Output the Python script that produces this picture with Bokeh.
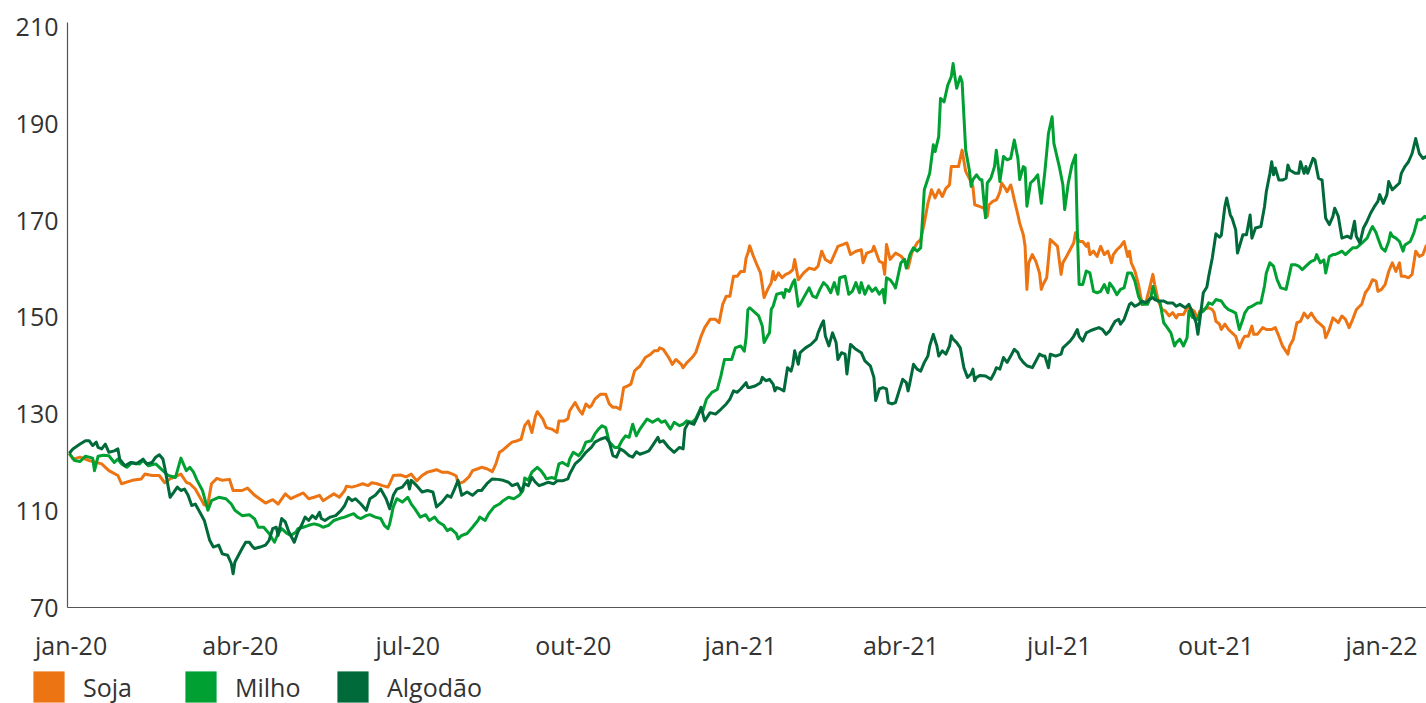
import pandas as pd
from bokeh.plotting import figure
from bokeh.layouts import column
from bokeh.models import Range1d, FixedTicker, Legend, LegendItem
from bokeh.embed import file_html
from bokeh.resources import INLINE

# ---------------- data (index values, days counted from 2020-01-02) ----------------
START = "2020-01-02"
END_DAY = 755

soja_days = [1, 3, 7, 12, 19, 23, 28, 30, 36, 41, 43, 47, 51, 54, 57, 63, 66, 68, 71, 76, 78, 80, 83, 86, 90, 92, 97, 100, 104, 110, 114, 117, 121, 124, 128, 131, 134, 137, 140, 142, 145, 148, 151, 154, 155, 158, 161, 164, 167, 169, 172, 175, 178, 179, 181, 185, 188, 191, 194, 197, 200, 203, 205, 208, 211, 214, 216, 217, 220, 223, 225, 228, 230, 233, 236, 238, 240, 242, 245, 247, 250, 252, 254, 256, 258, 260, 261, 264, 266, 269, 272, 273, 276, 278, 279, 282, 284, 286, 288, 290, 291, 293, 296, 299, 301, 303, 305, 307, 309, 311, 313, 315, 316, 318, 321, 324, 326, 328, 329, 331, 334, 336, 338, 341, 342, 344, 347, 349, 352, 354, 357, 360, 362, 364, 366, 368, 370, 372, 374, 376, 377, 378, 379, 381, 383, 385, 387, 389, 391, 392, 393, 395, 397, 399, 401, 403, 404, 406, 409, 412, 415, 417, 419, 421, 424, 426, 428, 431, 433, 435, 438, 441, 442, 444, 447, 448, 451, 453, 454, 455, 457, 460, 463, 466, 467, 469, 472, 474, 476, 478, 480, 482, 484, 486, 488, 490, 491, 493, 495, 497, 499, 501, 503, 504, 507, 509, 511, 512, 514, 516, 517, 518, 519, 521, 522, 524, 525, 526, 528, 529, 531, 532, 533, 534, 536, 538, 540, 541, 542, 544, 546, 548, 550, 552, 553, 555, 557, 559, 560, 562, 564, 566, 567, 568, 570, 572, 574, 576, 578, 580, 581, 583, 585, 587, 589, 590, 591, 593, 595, 597, 599, 601, 603, 604, 606, 608, 610, 612, 614, 616, 617, 620, 622, 624, 626, 628, 629, 631, 634, 636, 637, 638, 640, 641, 643, 645, 647, 649, 651, 653, 654, 656, 658, 659, 661, 664, 666, 669, 671, 673, 675, 678, 679, 681, 683, 685, 687, 689, 691, 692, 694, 696, 698, 699, 701, 703, 704, 706, 708, 710, 712, 714, 716, 717, 719, 721, 723, 725, 727, 728, 730, 732, 734, 736, 738, 740, 741, 743, 745, 747, 749, 751, 753, 755]
soja_vals = [121.9, 120.7, 121.1, 120.4, 119.7, 118.3, 117.3, 115.6, 116.3, 116.6, 117.6, 117.3, 117.3, 115.8, 116.6, 117.6, 115.9, 115.6, 114.5, 111.2, 111.4, 115.6, 116.7, 116.3, 116.5, 114.2, 114.2, 114.7, 113.2, 111.6, 112.3, 111.4, 113.5, 112.5, 113.2, 113.7, 112.5, 112.8, 113.2, 112.1, 112.8, 113.5, 112.8, 114.2, 115.1, 114.9, 115.2, 115.6, 115.2, 115.8, 115.6, 115.2, 114.9, 115.6, 117.3, 117.4, 117.0, 117.6, 116.2, 117.3, 118.0, 118.3, 118.5, 118.0, 118.0, 117.6, 117.2, 115.6, 116.0, 117.0, 118.3, 118.7, 119.0, 118.7, 118.1, 119.7, 122.1, 122.6, 123.6, 124.2, 124.5, 124.8, 127.6, 128.6, 126.2, 129.6, 130.5, 129.0, 127.2, 126.9, 126.2, 128.6, 128.6, 129.0, 130.7, 132.4, 131.0, 130.0, 132.1, 131.4, 131.7, 133.1, 134.1, 134.1, 132.1, 131.4, 131.4, 131.0, 135.5, 135.8, 136.2, 138.9, 139.3, 139.9, 141.7, 142.4, 143.1, 143.1, 143.7, 143.4, 141.7, 140.3, 141.3, 140.3, 139.6, 140.6, 141.7, 142.7, 146.1, 147.9, 149.6, 149.6, 148.9, 152.7, 154.4, 154.4, 158.5, 158.5, 159.5, 159.5, 162.3, 163.3, 164.8, 162.7, 160.9, 159.2, 154.1, 155.8, 157.2, 159.5, 157.8, 159.2, 158.2, 158.9, 159.2, 159.9, 162.0, 157.8, 159.2, 160.2, 159.9, 160.6, 163.7, 162.0, 161.3, 163.0, 164.7, 165.1, 165.4, 163.0, 163.7, 164.0, 161.3, 163.3, 163.7, 164.7, 161.6, 161.3, 158.9, 165.1, 162.0, 163.3, 162.7, 161.3, 160.2, 163.3, 165.4, 166.1, 169.5, 173.6, 176.4, 174.7, 176.4, 175.0, 176.7, 177.4, 181.2, 181.2, 181.2, 184.6, 180.2, 178.8, 177.1, 173.3, 172.9, 172.6, 170.9, 173.3, 174.0, 174.3, 175.0, 176.0, 177.8, 176.7, 176.0, 177.4, 176.0, 174.3, 171.2, 169.5, 167.1, 164.7, 155.8, 161.3, 163.0, 161.6, 159.2, 155.8, 156.8, 158.2, 166.1, 165.4, 164.7, 158.9, 161.3, 162.6, 164.0, 165.4, 167.5, 165.7, 165.7, 164.7, 165.4, 163.0, 163.7, 162.6, 164.7, 163.0, 163.7, 161.3, 163.0, 164.0, 164.7, 165.7, 162.6, 163.7, 161.3, 159.6, 156.8, 152.7, 153.0, 155.8, 158.9, 156.8, 153.4, 151.7, 151.3, 150.3, 151.0, 149.9, 150.6, 150.6, 152.0, 151.8, 151.3, 149.6, 151.3, 151.6, 152.0, 151.6, 151.0, 149.2, 148.6, 147.5, 148.6, 147.5, 146.8, 146.1, 143.7, 145.5, 146.1, 146.1, 148.2, 146.5, 146.5, 147.9, 147.5, 147.5, 147.9, 146.1, 144.1, 142.4, 144.1, 145.5, 148.9, 149.2, 150.9, 149.9, 150.9, 150.3, 149.2, 148.6, 147.9, 145.8, 147.5, 149.9, 149.6, 148.9, 150.3, 149.6, 147.9, 149.6, 151.6, 152.0, 152.7, 155.1, 156.1, 157.8, 157.5, 155.4, 155.8, 156.8, 159.5, 161.3, 159.5, 161.3, 158.5, 158.5, 158.2, 158.9, 163.7, 162.6, 163.0, 165.0]

milho_days = [1, 4, 7, 10, 14, 15, 17, 20, 23, 26, 28, 30, 33, 36, 40, 42, 45, 49, 53, 56, 60, 63, 66, 68, 70, 72, 75, 78, 80, 84, 88, 91, 93, 97, 101, 104, 106, 109, 112, 115, 117, 119, 122, 124, 127, 128, 131, 134, 137, 140, 142, 145, 148, 151, 154, 156, 159, 161, 163, 166, 168, 171, 174, 176, 178, 179, 181, 183, 186, 189, 191, 193, 196, 199, 201, 204, 206, 209, 211, 213, 216, 217, 219, 222, 225, 228, 229, 232, 234, 237, 240, 242, 245, 248, 251, 253, 254, 256, 258, 261, 263, 265, 266, 269, 271, 273, 275, 278, 279, 281, 284, 286, 288, 291, 293, 295, 297, 299, 301, 304, 306, 308, 310, 312, 314, 316, 318, 322, 325, 328, 330, 332, 335, 337, 340, 342, 344, 347, 349, 352, 353, 355, 358, 361, 363, 365, 367, 369, 371, 374, 376, 377, 378, 379, 382, 384, 386, 387, 389, 390, 391, 392, 394, 397, 398, 399, 401, 403, 404, 406, 407, 409, 412, 414, 416, 418, 420, 422, 424, 426, 428, 429, 432, 434, 436, 438, 440, 441, 443, 445, 447, 449, 451, 453, 454, 455, 457, 459, 460, 463, 465, 466, 468, 470, 472, 474, 476, 479, 481, 482, 484, 485, 487, 489, 491, 492, 493, 494, 496, 497, 499, 501, 502, 503, 505, 507, 508, 510, 511, 513, 515, 516, 517, 518, 520, 522, 524, 526, 528, 529, 531, 532, 533, 535, 537, 539, 541, 543, 545, 547, 548, 551, 553, 554, 556, 558, 560, 561, 562, 564, 566, 568, 570, 572, 574, 576, 578, 579, 581, 583, 585, 587, 589, 591, 593, 595, 597, 600, 602, 603, 605, 607, 609, 611, 613, 615, 616, 618, 620, 622, 623, 625, 628, 629, 631, 633, 634, 636, 638, 641, 643, 645, 647, 649, 651, 653, 654, 656, 658, 661, 663, 665, 666, 668, 670, 672, 674, 677, 679, 680, 682, 684, 686, 688, 690, 691, 693, 694, 696, 698, 699, 701, 703, 704, 706, 708, 710, 712, 714, 716, 717, 720, 722, 724, 725, 727, 728, 730, 732, 734, 735, 736, 738, 740, 742, 743, 746, 748, 750, 752, 754, 755]
milho_vals = [121.9, 120.4, 120.2, 121.3, 120.9, 118.3, 121.3, 121.5, 121.4, 120.0, 120.7, 119.7, 119.0, 120.0, 119.7, 120.4, 119.3, 119.7, 118.3, 117.3, 116.9, 120.9, 118.3, 119.0, 118.0, 116.3, 114.2, 110.1, 112.1, 112.8, 112.5, 111.4, 110.1, 109.0, 109.2, 108.3, 106.6, 106.6, 105.3, 103.5, 105.3, 106.3, 105.3, 104.9, 105.6, 106.3, 106.6, 107.0, 107.3, 107.0, 106.6, 107.0, 108.0, 108.4, 108.7, 109.0, 109.4, 108.7, 108.4, 109.0, 109.2, 108.7, 108.4, 107.0, 106.3, 107.3, 110.8, 112.5, 111.8, 112.8, 111.4, 110.4, 108.7, 109.2, 108.0, 108.7, 107.7, 107.0, 105.9, 106.3, 105.3, 104.2, 104.9, 105.3, 106.6, 108.0, 108.7, 108.0, 109.4, 110.8, 111.4, 112.1, 112.8, 112.5, 113.2, 114.2, 116.8, 116.3, 118.0, 119.0, 118.3, 117.3, 116.6, 116.9, 116.6, 119.7, 120.0, 119.3, 120.7, 122.1, 121.4, 122.4, 124.2, 124.5, 125.9, 126.9, 127.6, 127.2, 124.2, 123.1, 123.1, 124.5, 125.5, 125.2, 127.9, 125.5, 126.9, 129.0, 128.3, 129.0, 128.3, 128.6, 126.9, 128.3, 127.6, 127.9, 128.6, 128.3, 129.0, 131.4, 130.7, 133.1, 134.5, 135.1, 137.9, 141.3, 141.3, 141.3, 143.7, 144.1, 143.0, 145.8, 151.6, 152.0, 151.0, 150.3, 148.2, 144.8, 146.2, 146.8, 151.7, 152.3, 154.8, 155.1, 154.1, 155.8, 155.4, 157.2, 157.8, 152.3, 152.7, 154.1, 156.1, 154.4, 154.1, 155.8, 157.2, 156.5, 155.1, 157.2, 154.8, 158.2, 158.5, 154.8, 155.4, 157.2, 155.1, 157.2, 154.8, 156.5, 155.4, 156.1, 154.8, 155.8, 153.0, 158.2, 157.8, 156.8, 156.1, 161.3, 162.0, 160.2, 163.0, 164.4, 163.7, 164.4, 176.4, 179.8, 185.7, 184.3, 187.4, 195.3, 194.6, 198.0, 199.8, 202.5, 199.8, 197.4, 199.8, 198.7, 184.6, 180.5, 177.1, 178.5, 179.5, 178.5, 178.5, 170.6, 177.8, 178.8, 181.2, 184.6, 181.5, 178.1, 183.3, 182.6, 182.9, 186.7, 182.9, 178.5, 181.2, 180.9, 173.0, 177.8, 178.5, 179.5, 173.6, 180.2, 188.1, 191.5, 186.0, 181.2, 177.4, 172.3, 177.8, 181.5, 183.6, 168.1, 156.8, 156.8, 159.6, 159.2, 155.4, 155.1, 155.4, 156.8, 155.1, 157.1, 156.1, 154.7, 155.8, 156.1, 159.2, 159.2, 157.5, 154.4, 152.7, 152.7, 154.4, 156.4, 153.7, 153.0, 148.9, 147.9, 146.8, 144.1, 144.8, 145.5, 144.1, 145.8, 151.3, 150.0, 149.6, 150.9, 151.3, 152.3, 153.0, 152.7, 153.7, 153.4, 152.3, 151.6, 151.3, 150.9, 147.5, 149.6, 150.9, 152.0, 152.3, 153.0, 153.0, 156.5, 159.2, 161.3, 160.6, 157.8, 156.1, 155.8, 159.2, 160.9, 160.9, 160.6, 159.9, 160.6, 161.3, 161.6, 161.9, 163.0, 161.3, 161.9, 159.2, 162.6, 163.0, 163.0, 163.3, 163.7, 163.0, 163.7, 164.4, 164.4, 164.7, 165.7, 166.4, 168.1, 168.8, 167.5, 166.4, 164.4, 163.7, 165.7, 167.5, 166.8, 166.4, 165.7, 163.7, 165.0, 165.7, 167.5, 170.2, 170.2, 170.9, 170.5]

algodao_days = [1, 3, 7, 10, 12, 14, 16, 17, 19, 21, 23, 26, 28, 29, 32, 35, 38, 41, 42, 44, 47, 49, 51, 53, 54, 57, 59, 61, 63, 65, 67, 69, 71, 74, 76, 79, 81, 84, 86, 89, 91, 92, 93, 95, 97, 99, 101, 103, 104, 107, 110, 112, 114, 116, 117, 119, 121, 123, 126, 128, 130, 132, 134, 136, 138, 140, 141, 143, 146, 149, 152, 154, 156, 158, 160, 163, 166, 168, 171, 174, 177, 179, 181, 183, 186, 189, 190, 191, 194, 197, 200, 203, 205, 208, 211, 213, 215, 217, 219, 222, 225, 228, 230, 233, 236, 239, 242, 245, 247, 250, 252, 254, 256, 258, 260, 262, 265, 267, 270, 272, 275, 278, 279, 282, 285, 288, 291, 293, 296, 299, 301, 303, 305, 307, 309, 312, 314, 316, 318, 321, 323, 325, 328, 329, 331, 334, 337, 340, 342, 343, 345, 348, 351, 352, 354, 357, 360, 363, 366, 368, 370, 372, 374, 377, 378, 379, 382, 385, 386, 388, 390, 392, 393, 394, 396, 398, 400, 402, 403, 404, 406, 407, 410, 413, 416, 417, 419, 420, 421, 423, 425, 427, 428, 430, 432, 433, 435, 438, 441, 443, 446, 448, 449, 451, 453, 455, 456, 458, 460, 462, 464, 466, 467, 468, 470, 472, 474, 476, 478, 479, 481, 483, 484, 486, 488, 490, 491, 492, 494, 496, 498, 500, 502, 503, 504, 505, 507, 510, 513, 515, 516, 518, 520, 522, 524, 526, 528, 529, 531, 533, 536, 538, 540, 542, 543, 545, 546, 549, 552, 553, 555, 557, 559, 561, 562, 564, 566, 568, 570, 573, 575, 577, 579, 580, 582, 584, 585, 587, 590, 591, 593, 595, 597, 599, 601, 603, 604, 606, 609, 611, 614, 616, 618, 621, 623, 625, 627, 628, 629, 631, 633, 634, 636, 638, 640, 641, 643, 644, 646, 647, 649, 650, 653, 655, 657, 658, 660, 663, 665, 666, 668, 669, 670, 671, 673, 675, 677, 678, 679, 682, 684, 685, 687, 688, 689, 691, 692, 693, 695, 697, 699, 701, 703, 704, 706, 708, 711, 713, 715, 716, 718, 720, 722, 724, 726, 728, 729, 731, 733, 734, 736, 738, 740, 741, 743, 745, 747, 749, 751, 753, 755]
algodao_vals = [121.9, 122.8, 123.8, 124.5, 124.5, 123.5, 124.2, 123.1, 122.8, 123.8, 122.1, 122.4, 122.8, 120.7, 119.3, 120.0, 119.7, 120.4, 120.7, 119.7, 120.0, 121.1, 121.6, 120.7, 119.0, 112.8, 113.8, 114.9, 114.2, 114.5, 113.2, 111.1, 111.4, 109.4, 108.0, 103.9, 102.5, 102.9, 101.1, 100.8, 99.1, 97.0, 99.4, 100.8, 102.2, 103.5, 103.5, 102.5, 102.2, 102.5, 102.9, 103.9, 106.3, 106.6, 104.9, 108.4, 107.7, 105.6, 103.5, 105.6, 107.0, 108.7, 108.0, 109.0, 108.4, 109.7, 108.4, 108.0, 108.7, 109.0, 110.1, 111.1, 112.8, 112.1, 112.5, 111.4, 110.1, 112.5, 113.2, 114.5, 112.5, 110.4, 113.2, 114.5, 114.9, 116.3, 114.5, 116.3, 115.2, 113.9, 114.2, 113.9, 110.8, 111.8, 113.2, 112.8, 114.5, 116.3, 113.2, 113.9, 113.2, 114.2, 114.2, 115.6, 116.6, 116.5, 116.3, 115.9, 115.2, 115.6, 114.0, 115.6, 115.2, 116.9, 115.9, 115.2, 115.6, 115.9, 115.6, 116.2, 116.2, 116.6, 117.6, 119.7, 120.7, 122.1, 123.1, 124.2, 124.8, 125.2, 124.2, 121.4, 121.1, 122.8, 122.4, 121.4, 121.1, 122.2, 121.7, 122.1, 122.4, 123.5, 125.2, 124.2, 124.5, 123.1, 122.1, 123.1, 122.8, 126.9, 128.3, 127.9, 130.3, 131.4, 128.6, 130.3, 130.0, 131.0, 132.1, 133.1, 134.8, 134.5, 135.2, 136.5, 135.5, 135.5, 135.8, 136.5, 137.6, 136.9, 137.2, 136.2, 134.8, 135.5, 135.2, 134.8, 139.6, 138.9, 140.3, 143.1, 140.3, 142.7, 143.7, 144.4, 145.5, 146.8, 148.6, 149.3, 146.2, 144.1, 146.8, 144.8, 141.3, 142.7, 142.4, 138.3, 144.4, 143.4, 142.7, 141.0, 140.0, 137.6, 132.8, 135.2, 135.5, 135.2, 132.4, 132.1, 132.4, 134.8, 137.2, 136.5, 134.8, 136.5, 140.3, 139.3, 138.9, 140.7, 142.0, 144.1, 146.5, 144.1, 142.0, 143.1, 142.4, 144.1, 146.2, 145.5, 144.8, 143.7, 139.6, 137.6, 138.3, 139.3, 136.9, 137.6, 138.0, 137.9, 137.2, 138.6, 139.6, 139.3, 141.7, 140.7, 142.0, 143.4, 142.7, 141.7, 140.7, 140.0, 139.6, 141.0, 142.4, 142.0, 142.0, 139.6, 142.4, 142.0, 142.4, 143.7, 144.4, 145.1, 146.1, 147.5, 146.1, 145.1, 146.8, 147.2, 147.5, 147.9, 147.5, 146.5, 147.2, 147.9, 149.2, 149.6, 148.6, 149.6, 152.7, 153.0, 152.3, 152.7, 153.4, 153.0, 153.7, 154.1, 153.7, 153.4, 153.4, 153.0, 153.0, 152.3, 152.7, 152.0, 152.7, 151.0, 148.9, 146.5, 149.2, 155.1, 156.3, 158.5, 162.3, 167.3, 166.6, 167.0, 173.0, 174.7, 171.2, 170.5, 168.1, 163.3, 167.1, 167.1, 171.2, 166.4, 168.5, 168.8, 172.9, 176.0, 179.8, 182.2, 179.5, 180.9, 178.4, 178.4, 178.8, 181.5, 180.5, 179.8, 179.8, 182.2, 179.8, 181.2, 179.8, 181.9, 182.9, 182.6, 178.8, 178.4, 170.5, 169.2, 170.9, 172.6, 170.9, 166.4, 166.8, 166.4, 169.9, 166.8, 165.4, 168.5, 169.9, 171.6, 172.9, 174.0, 175.4, 173.6, 175.4, 178.1, 176.4, 177.1, 177.8, 179.8, 181.2, 182.2, 183.9, 187.0, 183.9, 182.9, 183.3]

series_names = ["Soja", "Milho", "Algodão"]
series_colors = ["#EC7412", "#00A032", "#006A3A"]

x_tick_days = [2, 96, 189, 281, 374, 463, 551, 638, 730]
x_tick_labels = ["jan-20", "abr-20", "jul-20", "out-20", "jan-21", "abr-21", "jul-21", "out-21", "jan-22"]
y_ticks = [90, 110, 130, 150, 170, 190, 210]
y_tick_labels = ["70", "110", "130", "150", "170", "190", "210"]

# ---------------- helpers ----------------
start = pd.Timestamp(START)


def to_dates(days):
    return start + pd.to_timedelta(days, unit="D")


def to_ms(days):
    return [float(t.value // 10**6) for t in to_dates(days)]


FONT = "Open Sans"
TEXT_COLOR = "#333333"

p = figure(
    width=1426, height=664,
    x_axis_type="datetime",
    x_range=Range1d(start, start + pd.Timedelta(days=END_DAY)),
    y_range=Range1d(90, 211),
    output_backend="svg", toolbar_location=None,
    min_border_left=67, min_border_right=0, min_border_top=22, min_border_bottom=55,
)
p.frame_align = False
p.outline_line_color = None
p.xgrid.visible = False
p.ygrid.visible = False
p.background_fill_color = "white"

all_series = [
    (soja_days, soja_vals),
    (milho_days, milho_vals),
    (algodao_days, algodao_vals),
]
for (days, vals), color in zip(all_series, series_colors):
    p.line(to_dates(days), vals, line_color=color, line_width=3, line_join="round")

# axes
x_ms = to_ms(x_tick_days)
p.xaxis.ticker = FixedTicker(ticks=x_ms)
p.xaxis.major_label_overrides = {ms: lab for ms, lab in zip(x_ms, x_tick_labels)}
p.yaxis.ticker = FixedTicker(ticks=y_ticks)
p.yaxis.major_label_overrides = {t: lab for t, lab in zip(y_ticks, y_tick_labels)}

for ax in (p.xaxis[0], p.yaxis[0]):
    ax.axis_line_color = "#555555"
    ax.axis_line_width = 1.2
    ax.major_tick_line_color = None
    ax.minor_tick_line_color = None
    ax.major_tick_out = 0
    ax.major_tick_in = 0
    ax.minor_tick_out = 0
    ax.minor_tick_in = 0
    ax.major_label_text_font = FONT
    ax.major_label_text_font_size = "25px"
    ax.major_label_text_color = TEXT_COLOR
p.yaxis.major_label_standoff = 9
p.xaxis.major_label_standoff = 20

# ---------------- legend strip: its own figure whose frame spans the full width ----------------
leg = figure(
    width=1426, height=39,
    x_range=Range1d(0, 1), y_range=Range1d(0, 1),
    output_backend="svg", toolbar_location=None,
    x_axis_location=None, y_axis_location=None,
    min_border=0, min_border_left=0, min_border_right=0, min_border_top=0, min_border_bottom=0,
)
leg.frame_align = False
leg.outline_line_color = None
leg.xgrid.visible = False
leg.ygrid.visible = False

# hidden one-row placeholder glyphs: only their fill colour is used, to draw the legend squares
swatches = []
for color in series_colors:
    q = leg.quad(left=[0], right=[0], bottom=[0], top=[0],
                 fill_color=color, line_color=None, visible=False)
    swatches.append(q)

legend = Legend(
    items=[LegendItem(label=n, renderers=[q]) for n, q in zip(series_names, swatches)],
    orientation="horizontal",
    location=(29, -3),
    glyph_width=39, glyph_height=39,
    label_standoff=15, label_width=80, spacing=18,
    padding=0, margin=0,
    border_line_color=None, background_fill_alpha=0,
    label_text_font=FONT, label_text_font_size="25px", label_text_color=TEXT_COLOR,
)
leg.add_layout(legend)

layout = column(p, leg, spacing=0)
open("out.html", "w").write(file_html(layout, INLINE))
